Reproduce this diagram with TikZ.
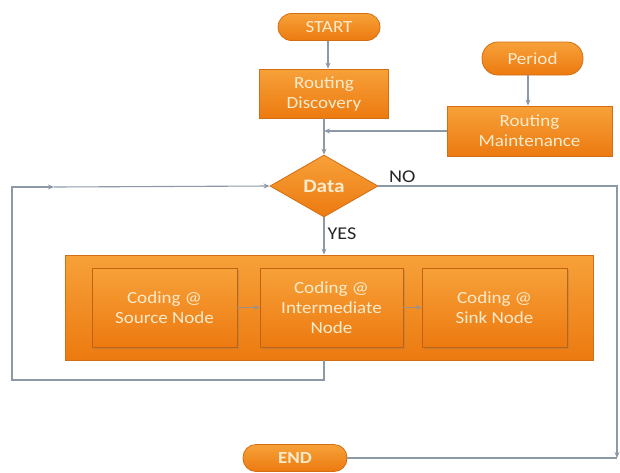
\documentclass[tikz,border=0pt]{standalone}
\usepackage{fontspec}
\setmainfont{Carlito}[FakeStretch=1.12]
\usetikzlibrary{shapes.geometric,arrows.meta,shadows}
\definecolor{orTop}{HTML}{F7A139}
\definecolor{orBot}{HTML}{EC7A10}
\definecolor{orEdge}{HTML}{D46E12}
\definecolor{txtc}{HTML}{FCEBCD}
\definecolor{conn}{HTML}{8E99A8}
\tikzset{
  orfill/.style={top color=orTop, bottom color=orBot, draw=orEdge, line width=0.8pt},
  pill/.style={orfill, rounded corners=#1, inner sep=0pt, text=txtc, font=\fontsize{17}{19}\selectfont},
  procbox/.style={orfill, inner sep=0pt, align=center, text=txtc, font=\fontsize{17}{20}\selectfont},
  innerbox/.style={procbox, draw=orEdge!90!black, drop shadow={shadow xshift=1.5pt, shadow yshift=-2pt, opacity=0.35}},
  conline/.style={draw=conn, line width=1.1pt},
  conarrow/.style={conline, -{Stealth[length=6pt,width=5pt]}},
  lbl/.style={font=\fontsize{18}{20}\selectfont, text=black!85, inner sep=0pt}
}
\begin{document}
\begin{tikzpicture}[x=1pt,y=-1pt]
\useasboundingbox (0,0) rectangle (620,472);
% nodes
\node[pill=13.5pt, minimum width=102pt, minimum height=27pt] (start) at (329,27) {START};
\node[procbox, minimum width=129pt, minimum height=49pt] (rd) at (324,93.5) {Routing\\Discovery};
\node[pill=16pt, minimum width=101pt, minimum height=33pt] (period) at (532.5,58.5) {Period};
\node[procbox, minimum width=165pt, minimum height=50pt] (rm) at (529.5,131) {Routing\\Maintenance};
\node[diamond, orfill, inner sep=0pt, minimum width=108pt, minimum height=62pt, text=txtc, font=\fontsize{19}{20}\selectfont\bfseries] (data) at (324,186) {Data};
\node[orfill, minimum width=528pt, minimum height=105pt, inner sep=0pt] (cont) at (329,307.5) {};
\node[innerbox, minimum width=145pt, minimum height=79pt] (src) at (164.5,307.5) {Coding @\\Source Node};
\node[innerbox, minimum width=143pt, minimum height=79pt] (mid) at (331.5,307.5) {Coding @\\Intermediate\\Node};
\node[innerbox, minimum width=145pt, minimum height=79pt] (sink) at (494.5,307.5) {Coding @\\Sink Node};
\node[pill=13pt, minimum width=104pt, minimum height=27pt, font=\fontsize{17}{19}\selectfont\bfseries] (end) at (295,458) {END};
% coordinates
\coordinate (join) at (324,131);
\coordinate (noc) at (617,186);
\coordinate (nod) at (617,458);
\coordinate (lpb) at (324,380);
\coordinate (lpl) at (12,380);
\coordinate (lpt) at (12,187);
\coordinate (lpm) at (54,187);
% connectors
\draw[conarrow] (start.south -| 328,0) -- (rd.north -| 328,0);
\draw[conarrow] (period.south -| 528,0) -- (rm.north -| 528,0);
\draw[conarrow] (rm.west) -- (join);
\draw[conarrow] (rd.south) -- (data.north);
\draw[conarrow] (data.south) -- node[lbl, right=3pt, pos=0.45] (yes) {YES} (data.south |- cont.north);
\draw[conarrow] (data.east) -- node[lbl, above=3pt, pos=0.1] (no) {NO} (noc) -- (nod);
\draw[conline] (end.east) -- (nod);
\draw[conarrow] (data.south |- cont.south) -- (lpb) -- (lpl) -- (lpt) -- (lpm);
\draw[conarrow] (lpm) -- (data.west);
\draw[conarrow, line width=1.3pt, draw=conn!80!orEdge] (src.east) -- (mid.west);
\draw[conarrow, line width=1.3pt, draw=conn!80!orEdge] (mid.east) -- (sink.west);
\end{tikzpicture}
\end{document}
